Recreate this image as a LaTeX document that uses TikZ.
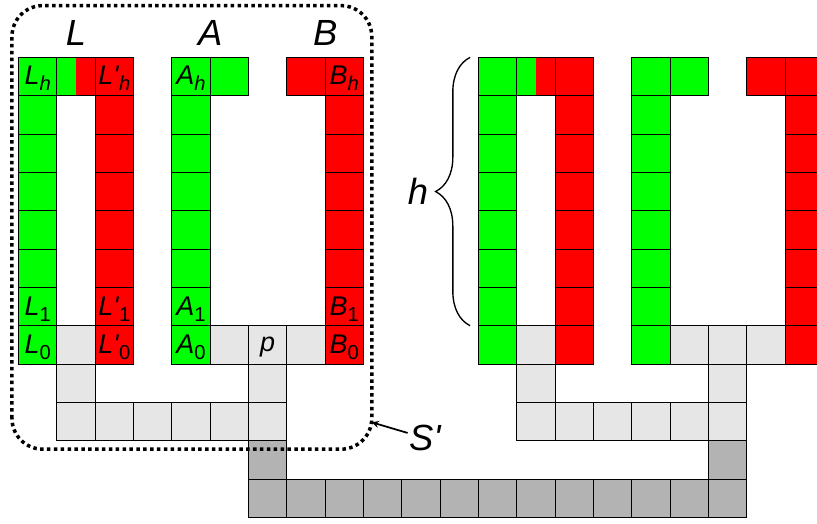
\documentclass[tikz,border=0pt]{standalone}
\usepackage{fontspec}
\newfontfamily\labfont{Liberation Sans}
\usepackage{tikz}
\usetikzlibrary{positioning,arrows,decorations.pathreplacing}
\definecolor{cgreen}{RGB}{0,255,0}
\definecolor{cred}{RGB}{255,0,0}
\definecolor{clight}{RGB}{230,230,230}
\definecolor{cdark}{RGB}{179,179,179}
\newcommand{\lab}[2]{\textit{#1}\raisebox{-4.5pt}{\fontsize{15}{15}\selectfont #2}}

\begin{document}
\begin{tikzpicture}[x=1cm,y=1cm,
	cell/.style={draw=black,line width=0.6pt},
	gcell/.style={cell,fill=cgreen},
	rcell/.style={cell,fill=cred},
	lcell/.style={cell,fill=clight},
	dcell/.style={cell,fill=cdark},
	lbl/.style={font=\labfont\fontsize{20}{20}\selectfont,inner sep=0pt,anchor=base},
	head/.style={font=\labfont\fontsize{27}{27}\selectfont\itshape,inner sep=0pt},
	big/.style={font=\labfont\fontsize{27}{27}\selectfont\itshape,inner sep=1pt},
	sbox/.style={line width=2.6pt,dash pattern=on 2.6pt off 2.5pt,rounded corners=0.8cm}]
	\useasboundingbox (-0.483,-4.148) rectangle (20.83,9.497);
	\clip (-0.483,-4.148) rectangle (20.83,9.497);
	% two copies of the gadget
	\foreach \dx in {0,12} {
		\begin{scope}[xshift=\dx cm]
			\foreach \y in {0,...,7} {
				\draw[gcell] (0,\y) rectangle ++(1,1);
				\draw[rcell] (2,\y) rectangle ++(1,1);
				\draw[gcell] (4,\y) rectangle ++(1,1);
				\draw[rcell] (8,\y) rectangle ++(1,1);
			}
			\draw[gcell] (5,7) rectangle ++(1,1);
			\draw[rcell] (7,7) rectangle ++(1,1);
			\fill[cgreen] (1,7) rectangle (1.5,8);
			\fill[cred] (1.5,7) rectangle (2,8);
			\draw[cell] (1,7) rectangle (2,8);
			\foreach \x/\y in {1/0,5/0,6/0,7/0,1/-1,6/-1,1/-2,2/-2,3/-2,4/-2,5/-2,6/-2}
				\draw[lcell] (\x,\y) rectangle ++(1,1);
		\end{scope}
	}
	% the path joining them
	\draw[dcell] (6,-3) rectangle ++(1,1);
	\draw[dcell] (18,-3) rectangle ++(1,1);
	\foreach \x in {6,...,18}
		\draw[dcell] (\x,-4) rectangle ++(1,1);
	% labels
	\node[head] (L) at (1.5,8.64) {L};
	\node[head] (A) at (5,8.64) {A};
	\node[head] (B) at (8,8.64) {B};
	\node[lbl] (lh)  at (0.5,7.3) {\lab{L}{\textit{h}}};
	\node[lbl] (lph) at (2.5,7.3) {\lab{L'}{\textit{h}}};
	\node[lbl] (ah)  at (4.5,7.3) {\lab{A}{\textit{h}}};
	\node[lbl] (bh)  at (8.5,7.3) {\lab{B}{\textit{h}}};
	\node[lbl] (l1)  at (0.5,1.27) {\lab{L}{1}};
	\node[lbl] (lp1) at (2.5,1.27) {\lab{L'}{1}};
	\node[lbl] (a1)  at (4.5,1.27) {\lab{A}{1}};
	\node[lbl] (b1)  at (8.5,1.27) {\lab{B}{1}};
	\node[lbl] (l0)  at (0.5,0.27) {\lab{L}{0}};
	\node[lbl] (lp0) at (2.5,0.27) {\lab{L'}{0}};
	\node[lbl] (a0)  at (4.5,0.27) {\lab{A}{0}};
	\node[lbl] (p)   at (6.5,0.33) {\textit{p}};
	\node[lbl] (b0)  at (8.5,0.27) {\lab{B}{0}};
	% S' box and arrow
	\draw[sbox] (-0.17,-2.22) rectangle (9.215,9.35);
	\coordinate (sbox-tip) at (9.215,-1.52);
	\node[big] (sprime) at (10.6,-1.93) {S'};
	\draw[-stealth,line width=1.3pt] (sprime) -- (sbox-tip);
	% height brace
	\coordinate (brace-bot) at (11.78,1);
	\coordinate (brace-top) at (11.78,8);
	\draw[decorate,decoration={brace,amplitude=0.9cm},line width=1pt] (brace-bot) -- (brace-top);
	\node[big] (h) at (10.42,4.5) {h};
\end{tikzpicture}
\end{document}
